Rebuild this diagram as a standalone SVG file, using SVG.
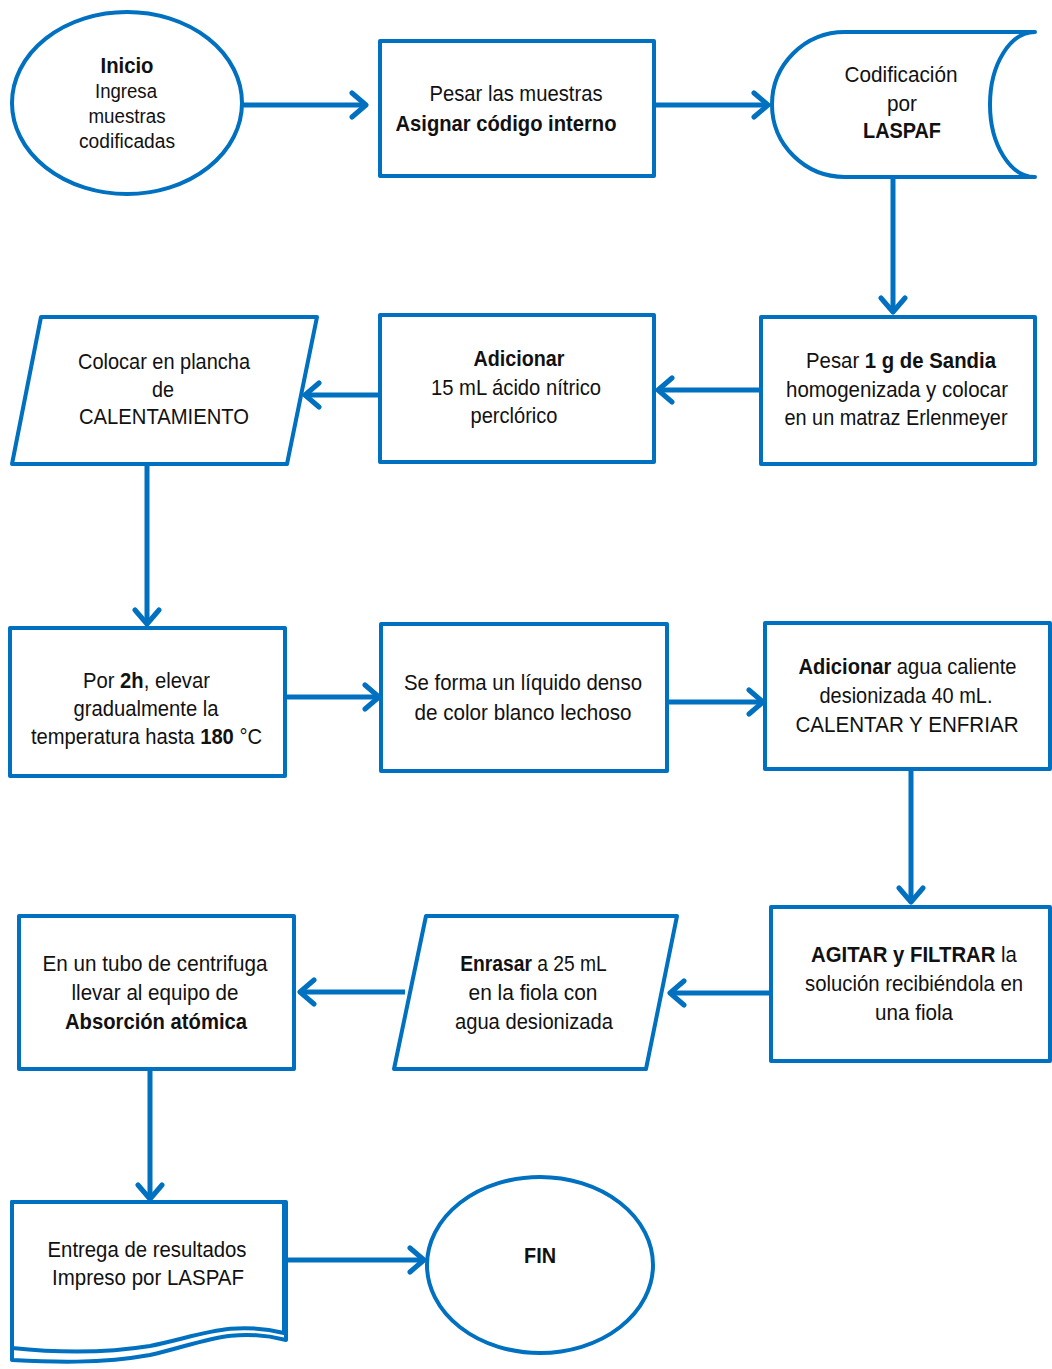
<svg xmlns="http://www.w3.org/2000/svg" width="1052" height="1369" viewBox="0 0 1052 1369">
<defs>
<style>
.s{fill:#fff;stroke:#0070C0;stroke-width:4;stroke-linejoin:round}
.c{fill:none;stroke:#0070C0;stroke-width:5}
text{font-family:"Liberation Sans Narrow","Arial Narrow","Liberation Sans",sans-serif;font-size:22px;fill:#111;text-anchor:middle}
.b{font-weight:bold}
.sm{font-size:20px}
</style>
<marker id="ah" markerUnits="userSpaceOnUse" markerWidth="30" markerHeight="30" viewBox="-20 -15 24 30" refX="0" refY="0" orient="auto">
<path d="M-14,-12 L0,0 L-14,12" fill="none" stroke="#0070C0" stroke-width="5" stroke-linecap="round" stroke-linejoin="round"/>
</marker>
</defs>
<rect width="1052" height="1369" fill="#fff"/>
<g id="connectors">
<line class="c" x1="242" y1="105" x2="366" y2="105" marker-end="url(#ah)"/>
<line class="c" x1="654" y1="105" x2="768" y2="105" marker-end="url(#ah)"/>
<line class="c" x1="893" y1="177" x2="893" y2="312" marker-end="url(#ah)"/>
<line class="c" x1="761" y1="390" x2="658" y2="390" marker-end="url(#ah)"/>
<line class="c" x1="380" y1="395" x2="305" y2="395" marker-end="url(#ah)"/>
<line class="c" x1="147" y1="464" x2="147" y2="624" marker-end="url(#ah)"/>
<line class="c" x1="285" y1="697" x2="379" y2="697" marker-end="url(#ah)"/>
<line class="c" x1="667" y1="702" x2="763" y2="702" marker-end="url(#ah)"/>
<line class="c" x1="911" y1="769" x2="911" y2="902" marker-end="url(#ah)"/>
<line class="c" x1="771" y1="993" x2="670" y2="993" marker-end="url(#ah)"/>
<line class="c" x1="405" y1="992" x2="300" y2="992" marker-end="url(#ah)"/>
<line class="c" x1="150" y1="1069" x2="150" y2="1199" marker-end="url(#ah)"/>
<line class="c" x1="286" y1="1260" x2="424" y2="1260" marker-end="url(#ah)"/>
</g>
<g id="inicio">
<ellipse class="s" cx="127" cy="103" rx="115" ry="91"/>
<text x="127" y="73" class="b" textLength="53" lengthAdjust="spacingAndGlyphs">Inicio</text>
<text x="126" y="98" class="sm" textLength="62" lengthAdjust="spacingAndGlyphs">Ingresa</text>
<text x="127" y="123" class="sm" textLength="77" lengthAdjust="spacingAndGlyphs">muestras</text>
<text x="127" y="148" class="sm" textLength="96" lengthAdjust="spacingAndGlyphs">codificadas</text>
</g>
<g id="pesar-muestras">
<rect class="s" x="380" y="41" width="274" height="135"/>
<text x="516" y="101" textLength="173" lengthAdjust="spacingAndGlyphs">Pesar las muestras</text>
<text x="506" y="131" class="b" textLength="221" lengthAdjust="spacingAndGlyphs">Asignar código interno</text>
</g>
<g id="codificacion">
<path class="s" d="M1035,32 H845 A73,72.5 0 0 0 845,177 H1035 A45,72.5 0 0 1 1035,32 Z"/>
<text x="901" y="82" textLength="113" lengthAdjust="spacingAndGlyphs">Codificación</text>
<text x="902" y="111" textLength="30" lengthAdjust="spacingAndGlyphs">por</text>
<text x="902" y="138" class="b" textLength="78" lengthAdjust="spacingAndGlyphs">LASPAF</text>
</g>
<g id="pesar-sandia">
<rect class="s" x="761" y="317" width="274" height="147"/>
<text transform="translate(901,368) scale(0.925,1)" x="0" y="0">Pesar <tspan class="b">1 g de Sandia</tspan></text>
<text x="897" y="397" textLength="222" lengthAdjust="spacingAndGlyphs">homogenizada y colocar</text>
<text x="896" y="425" textLength="223" lengthAdjust="spacingAndGlyphs">en un matraz Erlenmeyer</text>
</g>
<g id="adicionar-acido">
<rect class="s" x="380" y="315" width="274" height="147"/>
<text x="519" y="366" class="b" textLength="91" lengthAdjust="spacingAndGlyphs">Adicionar</text>
<text x="516" y="395" textLength="170" lengthAdjust="spacingAndGlyphs">15 mL ácido nítrico</text>
<text x="514" y="423" textLength="87" lengthAdjust="spacingAndGlyphs">perclórico</text>
</g>
<g id="colocar-plancha">
<polygon class="s" points="41,317 317,317 287,464 12,464"/>
<text x="164" y="369" textLength="172" lengthAdjust="spacingAndGlyphs">Colocar en plancha</text>
<text x="163" y="397" textLength="22" lengthAdjust="spacingAndGlyphs">de</text>
<text x="164" y="424" textLength="170" lengthAdjust="spacingAndGlyphs">CALENTAMIENTO</text>
</g>
<g id="elevar-temperatura">
<rect class="s" x="10" y="628" width="275" height="148"/>
<text transform="translate(146.5,688) scale(0.919,1)" x="0" y="0">Por <tspan class="b">2h</tspan>, elevar</text>
<text x="146" y="716" textLength="145" lengthAdjust="spacingAndGlyphs">gradualmente la</text>
<text transform="translate(146.5,744) scale(0.917,1)" x="0" y="0">temperatura hasta <tspan class="b">180</tspan> °C</text>
</g>
<g id="liquido-denso">
<rect class="s" x="381" y="624" width="286" height="147"/>
<text x="523" y="690" textLength="238" lengthAdjust="spacingAndGlyphs">Se forma un líquido denso</text>
<text x="523" y="720" textLength="217" lengthAdjust="spacingAndGlyphs">de color blanco lechoso</text>
</g>
<g id="adicionar-agua">
<rect class="s" x="765" y="623" width="285" height="146"/>
<text transform="translate(907.5,674) scale(0.915,1)" x="0" y="0"><tspan class="b">Adicionar</tspan> agua caliente</text>
<text x="906" y="703" textLength="173" lengthAdjust="spacingAndGlyphs">desionizada 40 mL.</text>
<text x="907" y="732" textLength="223" lengthAdjust="spacingAndGlyphs">CALENTAR  Y ENFRIAR</text>
</g>
<g id="agitar-filtrar">
<rect class="s" x="771" y="907" width="279" height="154"/>
<text transform="translate(914,962) scale(0.924,1)" x="0" y="0"><tspan class="b">AGITAR y FILTRAR</tspan> la</text>
<text x="914" y="991" textLength="218" lengthAdjust="spacingAndGlyphs">solución recibiéndola en</text>
<text x="914" y="1020" textLength="78" lengthAdjust="spacingAndGlyphs">una fiola</text>
</g>
<g id="enrasar">
<polygon class="s" points="426,916 677,916 646,1069 394,1069"/>
<text transform="translate(533.5,971) scale(0.875,1)" x="0" y="0"><tspan class="b">Enrasar</tspan> a 25 mL</text>
<text x="533" y="1000" textLength="129" lengthAdjust="spacingAndGlyphs">en la fiola con</text>
<text x="534" y="1029" textLength="158" lengthAdjust="spacingAndGlyphs">agua desionizada</text>
</g>
<g id="absorcion">
<rect class="s" x="19" y="916" width="275" height="153"/>
<text x="155" y="971" textLength="225" lengthAdjust="spacingAndGlyphs">En un tubo de centrifuga</text>
<text x="155" y="1000" textLength="167" lengthAdjust="spacingAndGlyphs">llevar al equipo de</text>
<text x="156" y="1029" class="b" textLength="182" lengthAdjust="spacingAndGlyphs">Absorción atómica</text>
</g>
<g id="entrega">
<path class="s" d="M12,1202 H286 V1340 C230,1326 200,1344 150,1355 C100,1364 50,1362 12,1360 Z"/>
<path class="s" d="M12,1202 H284 V1333 C230,1320 200,1336 150,1346 C100,1354 50,1352 12,1348 Z"/>
<text x="147" y="1257" textLength="199" lengthAdjust="spacingAndGlyphs">Entrega de resultados</text>
<text x="148" y="1285" textLength="192" lengthAdjust="spacingAndGlyphs">Impreso por LASPAF</text>
</g>
<g id="fin">
<ellipse class="s" cx="540" cy="1265" rx="113" ry="88"/>
<text x="540" y="1263" class="b" textLength="32" lengthAdjust="spacingAndGlyphs">FIN</text>
</g>
</svg>
